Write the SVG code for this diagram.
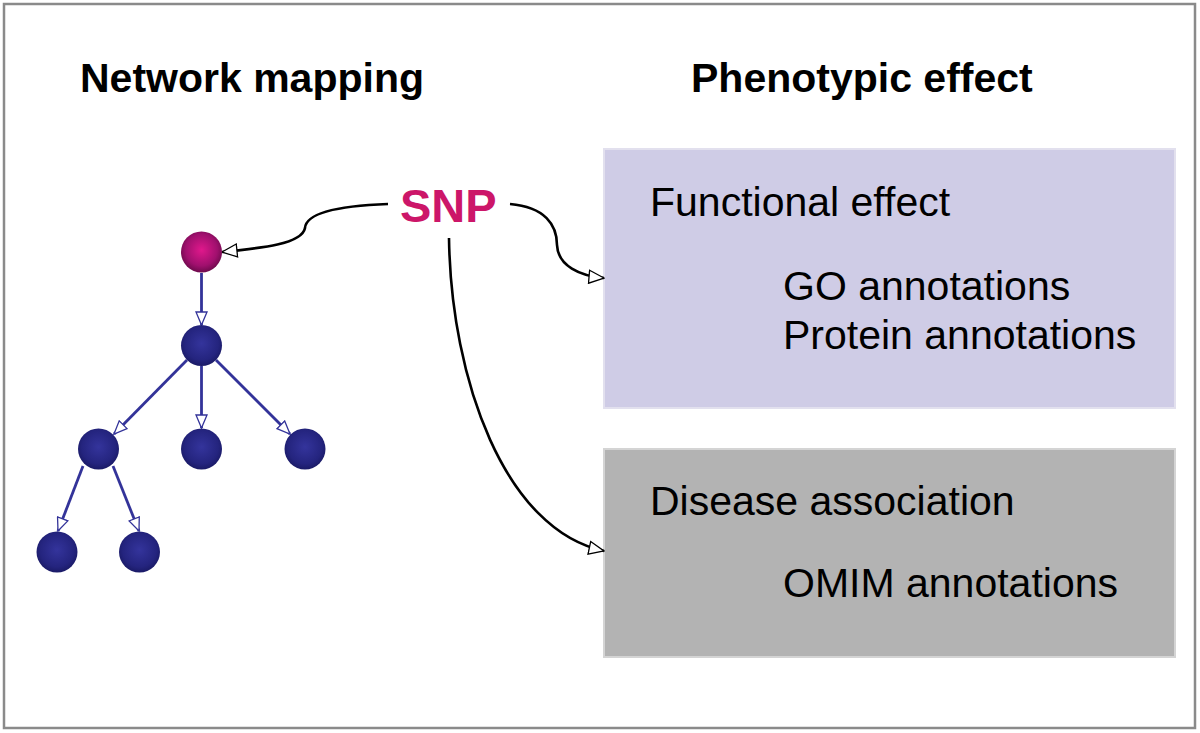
<svg xmlns="http://www.w3.org/2000/svg" width="1200" height="733" viewBox="0 0 1200 733">
<defs>
<radialGradient id="gBlue" cx="50%" cy="45%" r="55%">
<stop offset="0" stop-color="#34349c"/>
<stop offset="0.75" stop-color="#24247e"/>
<stop offset="1" stop-color="#1a1a66"/>
</radialGradient>
<radialGradient id="gPink" cx="50%" cy="45%" r="55%">
<stop offset="0" stop-color="#e0188c"/>
<stop offset="0.7" stop-color="#a0106e"/>
<stop offset="1" stop-color="#6e0a4c"/>
</radialGradient>
<marker id="aBlue" viewBox="0 0 15 13" refX="14" refY="6.5" markerWidth="15" markerHeight="13" markerUnits="userSpaceOnUse" orient="auto">
<path d="M1,1 L14,6.5 L1,12 Z" fill="#fff" stroke="#333399" stroke-width="1.3"/>
</marker>
<marker id="aBlack" viewBox="0 0 17 15" refX="16" refY="7.5" markerWidth="17" markerHeight="15" markerUnits="userSpaceOnUse" orient="auto">
<path d="M1,1 L16,7.5 L1,14 Z" fill="#fff" stroke="#000" stroke-width="1.3"/>
</marker>
</defs>
<style>
.title{font-family:"Liberation Sans",Arial,sans-serif;font-weight:bold;font-size:41px;fill:#000}
.lbl{font-family:"Liberation Sans",Arial,sans-serif;font-size:41px;fill:#000}
.snp{font-family:"Liberation Sans",Arial,sans-serif;font-weight:bold;font-size:47px;fill:#cc1669}
.tree{stroke:#333399;stroke-width:2.8;fill:none;marker-end:url(#aBlue)}
.conn{stroke:#000;stroke-width:2.6;fill:none;marker-end:url(#aBlack)}
.nb{fill:url(#gBlue)}
</style>
<rect x="0" y="0" width="1200" height="733" fill="#fff"/>
<rect x="4" y="4" width="1191" height="724" fill="#fff" stroke="#8a8a8a" stroke-width="2.5"/>
<text class="title" x="80" y="92">Network mapping</text>
<text class="title" x="691" y="92">Phenotypic effect</text>
<g id="box-functional">
<rect x="604" y="149" width="571" height="259" fill="#cfcce6" stroke="#e2e0ee" stroke-width="2"/>
<text class="lbl" x="650" y="216">Functional effect</text>
<text class="lbl" x="783" y="300">GO annotations</text>
<text class="lbl" x="783" y="349">Protein annotations</text>
</g>
<g id="box-disease">
<rect x="604" y="449" width="571" height="208" fill="#b3b3b3" stroke="#d4d4d4" stroke-width="2"/>
<text class="lbl" x="650" y="515">Disease association</text>
<text class="lbl" x="783" y="597">OMIM annotations</text>
</g>
<g id="snp">
<text class="snp" x="400" y="222">SNP</text>
</g>
<g id="connectors">
<path class="tree" d="M201.5,273 L201.5,325"/>
<path class="tree" d="M187,360 L114,434"/>
<path class="tree" d="M201.5,366 L201.5,428"/>
<path class="tree" d="M216,360 L290,434"/>
<path class="tree" d="M83,466 L58,531"/>
<path class="tree" d="M113,466 L139,531"/>
<path class="conn" d="M388,204 C335,206 306,214 305,228 C302,244 262,248 222,252"/>
<path class="conn" d="M510,204 C545,207 557,225 557,245 C558,266 580,276 604,278"/>
<path class="conn" d="M449,238 C451,380 505,530 604,551"/>
</g>
<g id="n-root"><circle cx="201.5" cy="252" r="20.5" fill="url(#gPink)"/></g>
<g id="n-1"><circle class="nb" cx="201.5" cy="345.5" r="20.5"/></g>
<g id="n-2"><circle class="nb" cx="98.5" cy="449" r="20.5"/></g>
<g id="n-3"><circle class="nb" cx="201.5" cy="449" r="20.5"/></g>
<g id="n-4"><circle class="nb" cx="305" cy="449" r="20.5"/></g>
<g id="n-5"><circle class="nb" cx="57" cy="552" r="20.5"/></g>
<g id="n-6"><circle class="nb" cx="139.5" cy="552" r="20.5"/></g>
</svg>
